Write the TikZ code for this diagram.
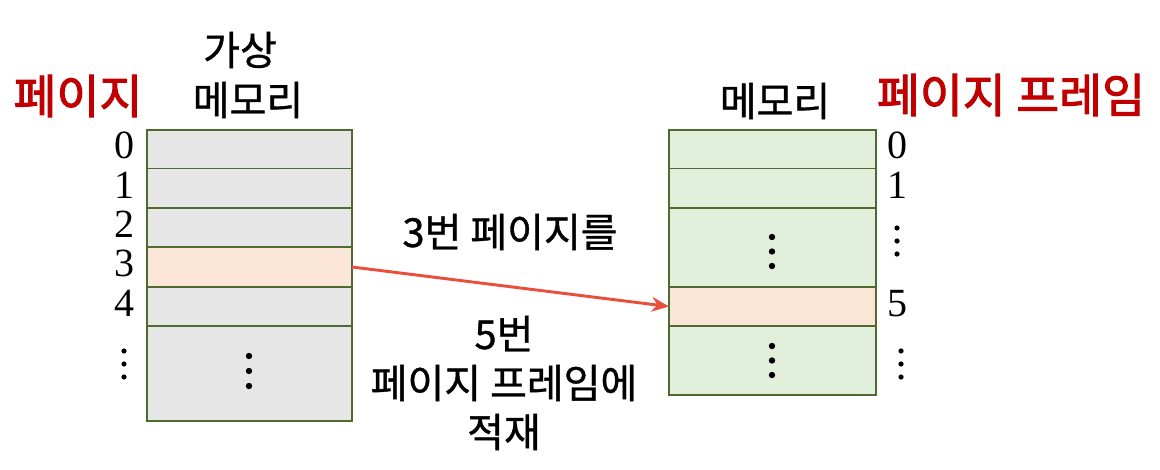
\documentclass[tikz,border=0pt]{standalone}
\usepackage{fontspec}
\setmainfont{Liberation Serif}
\newfontfamily\kr[FakeBold=0.9]{Noto Sans CJK KR}
\newfontfamily\krb[FakeBold=2.2]{Noto Sans CJK KR}
\definecolor{vgray}{HTML}{E6E6E6}
\definecolor{peach}{HTML}{FBE5D6}
\definecolor{pgreen}{HTML}{E2EFDA}
\definecolor{cellline}{HTML}{4F6A30}
\definecolor{redtxt}{HTML}{C00000}
\definecolor{arrowred}{HTML}{E8503C}
\usetikzlibrary{arrows.meta}
\begin{document}
\begin{tikzpicture}[x=0.75pt,y=-0.75pt,
  cell/.style={draw=cellline, line width=1.2pt, inner sep=0pt, outer sep=0pt, rectangle},
  lcell/.style={cell, minimum width=153.75pt},
  rcell/.style={cell, minimum width=155.25pt},
  num/.style={font=\fontsize{30}{30}\selectfont, inner sep=0pt, anchor=base},
  blk/.style={font=\kr\fontsize{30}{36.75}\selectfont, inner sep=0pt, align=center},
  redlbl/.style={font=\krb\fontsize{35}{38}\selectfont, text=redtxt, inner sep=0pt},
  dot/.style={fill=black}
]
\useasboundingbox (0,0) rectangle (1160,470);
% virtual memory
\node[lcell, fill=vgray, minimum height=28.875pt] (v0) at (249.5,149.25) {};
\node[lcell, fill=vgray, minimum height=29.625pt] (v1) at (249.5,188.25) {};
\node[lcell, fill=vgray, minimum height=29.25pt] (v2) at (249.5,227.5) {};
\node[lcell, fill=peach, minimum height=30pt] (v3) at (249.5,267) {};
\node[lcell, fill=vgray, minimum height=29.25pt] (v4) at (249.5,306.5) {};
\node[lcell, fill=vgray, minimum height=71.25pt] (v5) at (249.5,373.5) {};
% physical memory
\node[rcell, fill=pgreen, minimum height=28.875pt] (p0) at (772.5,149.25) {};
\node[rcell, fill=pgreen, minimum height=29.625pt] (p1) at (772.5,188.25) {};
\node[rcell, fill=pgreen, minimum height=59.25pt] (p2) at (772.5,247.5) {};
\node[rcell, fill=peach, minimum height=29.25pt] (p5) at (772.5,306.5) {};
\node[rcell, fill=pgreen, minimum height=51.75pt] (p6) at (772.5,360.5) {};
% dots
\foreach \x/\y/\s/\r in {249/356/15/3.2, 124/351/13/2.6, 772/237/14.5/3.2, 772/346/14.5/3.2, 897/228/13/2.6, 901/351/13/2.6}{
  \foreach \k in {0,1,2}{
    \fill (\x,\y+\k*\s) circle[radius=\r*0.75pt];
  }
}
% numbers
\node[num] (n0) at (124,159) {0};
\node[num] (n1) at (124,198.5) {1};
\node[num] (n2) at (124,237.5) {2};
\node[num] (n3) at (124,276.5) {3};
\node[num] (n4) at (124,316.5) {4};
\node[num] (m0) at (897,159) {0};
\node[num] (m1) at (897,198.5) {1};
\node[num] (m5) at (897,316.5) {5};
% titles
\node[blk] (ga) at (240,50) {가상};
\node[blk] (vm) at (248,100) {메모리};
\node[blk] (pm) at (775,101) {메모리};
\node[redlbl] (pg) at (78,96) {페이지};
\node[redlbl] (pf) at (1011,95) {페이지 프레임};
% arrow and labels
\draw[arrowred, line width=2.2pt, -{Stealth[length=13pt,width=11pt]}] (v3.east) -- (p5.west);
\node[blk] (lab1) at (510,232) {3번 페이지를};
\node[blk] (lab2) at (504,383) {5번\\페이지 프레임에\\적재};
\end{tikzpicture}
\end{document}
